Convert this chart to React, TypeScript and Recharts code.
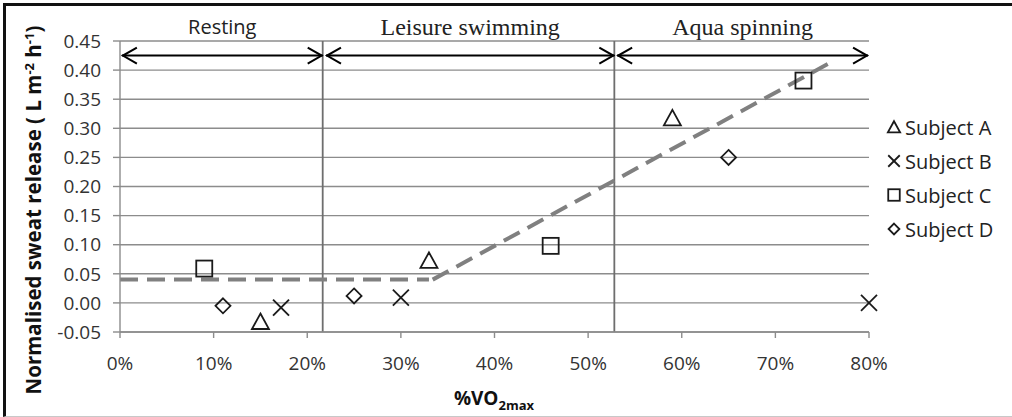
import React from 'react';
import { ComposedChart, Scatter, Line, XAxis, YAxis, CartesianGrid, ReferenceLine, Legend } from 'recharts';

// axis ticks
const xTicks = [0, 10, 20, 30, 40, 50, 60, 70, 80];
const yTicks = [-0.05, 0, 0.05, 0.1, 0.15, 0.2, 0.25, 0.3, 0.35, 0.4, 0.45];

// measured points (%VO2max, L m-2 h-1)
const subjectA = [{ x: 15, y: -0.032 }, { x: 33, y: 0.073 }, { x: 59, y: 0.318 }];
const subjectB = [{ x: 17.2, y: -0.008 }, { x: 30, y: 0.009 }, { x: 80, y: 0 }];
const subjectC = [{ x: 9, y: 0.059 }, { x: 46, y: 0.098 }, { x: 73, y: 0.382 }];
const subjectD = [{ x: 11, y: -0.005 }, { x: 25, y: 0.012 }, { x: 65, y: 0.25 }];

// fitted threshold line
const trendFlat = [{ x: 0, y: 0.04 }, { x: 33, y: 0.04 }];
const trendRise = [{ x: 33.4, y: 0.04 }, { x: 76, y: 0.414 }];

// activity phases
const phaseNames = ['Resting', 'Leisure swimming', 'Aqua spinning'];
const phaseFrom = [0.2, 22.0, 53.1];
const phaseTo = [21.65, 52.8, 79.9];
const phaseBounds = [21.65, 52.8];
const arrowY = 0.425;

const INK = '#1a1a1a';
const GRID = '#8c8c8c';

type Kind = 'triangle' | 'cross' | 'square' | 'diamond';

const Marker = ({ kind, cx, cy, s = 1 }: { kind: Kind; cx: number; cy: number; s?: number }) => {
  const p = { fill: 'none', stroke: INK, strokeWidth: 1.8 };
  if (kind === 'triangle')
    return <polygon {...p} points={`${cx},${cy - 8 * s} ${cx + 8.5 * s},${cy + 7.5 * s} ${cx - 8.5 * s},${cy + 7.5 * s}`} />;
  if (kind === 'cross')
    return (
      <g {...p}>
        <line x1={cx - 8 * s} y1={cy - 8 * s} x2={cx + 8 * s} y2={cy + 8 * s} />
        <line x1={cx - 8 * s} y1={cy + 8 * s} x2={cx + 8 * s} y2={cy - 8 * s} />
      </g>
    );
  if (kind === 'square') return <rect {...p} x={cx - 8 * s} y={cy - 8 * s} width={16 * s} height={16 * s} />;
  return <polygon {...p} points={`${cx},${cy - 7.5 * s} ${cx + 7.5 * s},${cy} ${cx},${cy + 7.5 * s} ${cx - 7.5 * s},${cy}`} />;
};

const shapeOf = (kind: Kind) => (props: any) => <Marker kind={kind} cx={props.cx} cy={props.cy} />;

const legendItems: { name: string; kind: Kind }[] = [
  { name: 'Subject A', kind: 'triangle' },
  { name: 'Subject B', kind: 'cross' },
  { name: 'Subject C', kind: 'square' },
  { name: 'Subject D', kind: 'diamond' },
];

const renderLegend = () => (
  <div style={{ fontFamily: 'Open Sans', fontSize: 20, color: '#222', textAlign: 'left' }}>
    {legendItems.map((it) => (
      <div key={it.name} style={{ display: 'flex', alignItems: 'center', height: 34 }}>
        <svg width={18} height={18} style={{ marginRight: 2 }}>
          <Marker kind={it.kind} cx={9} cy={9} s={0.72} />
        </svg>
        <span>{it.name}</span>
      </div>
    ))}
  </div>
);

const phaseShape = (i: number) => (props: any) => {
  const { x1, y1, x2 } = props;
  const mid = (x1 + x2) / 2;
  const serif = i > 0;
  return (
    <g>
      <line x1={x1} y1={y1} x2={x2} y2={y1} stroke="#000" strokeWidth={2} />
      <polyline points={`${x1 + 15},${y1 - 8} ${x1 + 1},${y1} ${x1 + 15},${y1 + 8}`} fill="none" stroke="#000" strokeWidth={2} />
      <polyline points={`${x2 - 15},${y1 - 8} ${x2 - 1},${y1} ${x2 - 15},${y1 + 8}`} fill="none" stroke="#000" strokeWidth={2} />
      <text
        x={mid}
        y={serif ? y1 - 21 : y1 - 22}
        textAnchor="middle"
        fontFamily={serif ? 'Liberation Serif' : 'Open Sans'}
        fontSize={serif ? 24 : 20}
        fill="#222"
      >
        {phaseNames[i]}
      </text>
    </g>
  );
};

const YTitle = () => (
  <text transform="translate(41,210) rotate(-90)" textAnchor="middle" fontFamily="Open Sans" fontWeight={700} fontSize={20.5} fill="#111">
    Normalised sweat release ( L m<tspan dy={-7} fontSize={13}>-2</tspan>
    <tspan dy={7}> h</tspan>
    <tspan dy={-7} fontSize={13}>-1</tspan>
    <tspan dy={7}>)</tspan>
  </text>
);

const XTitle = () => (
  <text x={494} y={405} textAnchor="middle" fontFamily="Open Sans" fontWeight={700} fontSize={19} fill="#111">
    %VO<tspan dy={5} fontSize={13}>2max</tspan>
  </text>
);

const tickStyle = { fontFamily: 'Open Sans', fontSize: 19, fill: '#333' };

export default function App() {
  return (
    <div style={{ position: 'absolute', left: 0, top: 0, width: 1012, height: 417, background: '#fff' }}>
      <ComposedChart width={1012} height={417} margin={{ top: 41, right: 143, left: 60, bottom: 35 }}>
        <CartesianGrid vertical={false} stroke={GRID} strokeWidth={1.4} />
        <XAxis
          type="number"
          dataKey="x"
          domain={[0, 80]}
          ticks={xTicks}
          interval={0}
          tickFormatter={(v: number) => `${v}%`}
          stroke={GRID}
          strokeWidth={1.4}
          tickSize={6}
          tickMargin={19}
          height={50}
          tick={tickStyle}
          label={{ content: () => <XTitle /> }}
        />
        <YAxis
          type="number"
          dataKey="y"
          domain={[-0.05, 0.45]}
          ticks={yTicks}
          interval={0}
          tickFormatter={(v: number) => v.toFixed(2)}
          stroke={GRID}
          strokeWidth={1.4}
          tickSize={7}
          tickMargin={12}
          width={60}
          tick={tickStyle}
          label={{ content: () => <YTitle /> }}
        />
        {phaseBounds.map((b) => (
          <ReferenceLine key={b} x={b} stroke="#6e6e6e" strokeWidth={1.8} />
        ))}
        {phaseNames.map((n, i) => (
          <ReferenceLine
            key={n}
            segment={[{ x: phaseFrom[i], y: arrowY }, { x: phaseTo[i], y: arrowY }]}
            shape={phaseShape(i)}
          />
        ))}
        <Line data={trendFlat} dataKey="y" stroke="#808080" strokeWidth={4} strokeDasharray="18 9" dot={false} isAnimationActive={false} legendType="none" />
        <Line data={trendRise} dataKey="y" stroke="#808080" strokeWidth={4} strokeDasharray="18 9" dot={false} isAnimationActive={false} legendType="none" />
        <Scatter name="Subject A" data={subjectA} shape={shapeOf('triangle')} isAnimationActive={false} />
        <Scatter name="Subject B" data={subjectB} shape={shapeOf('cross')} isAnimationActive={false} />
        <Scatter name="Subject C" data={subjectC} shape={shapeOf('square')} isAnimationActive={false} />
        <Scatter name="Subject D" data={subjectD} shape={shapeOf('diamond')} isAnimationActive={false} />
        <Legend
          content={renderLegend}
          layout="vertical"
          align="center"
          verticalAlign="middle"
          wrapperStyle={{ left: 885, top: 110, width: 127 }}
        />
      </ComposedChart>
      <div
        style={{
          position: 'absolute',
          left: 3,
          top: 3,
          right: 0,
          bottom: 0,
          borderTop: '3px solid #111',
          borderLeft: '3px solid #111',
          borderBottom: '1px solid #c8c8c8',
          pointerEvents: 'none',
        }}
      />
    </div>
  );
}
